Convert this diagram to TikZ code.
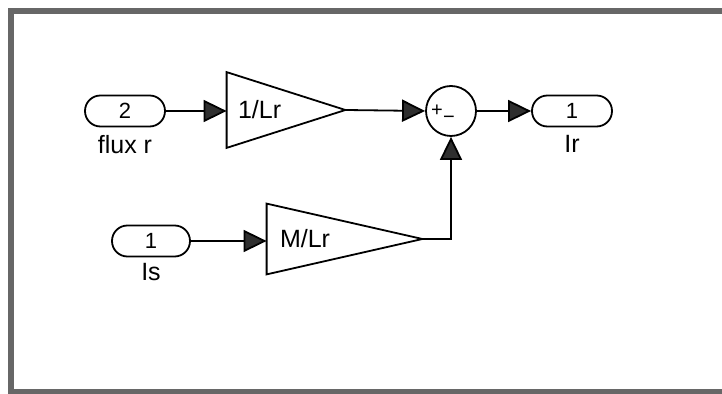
\documentclass[tikz,border=0pt]{standalone}
\usepackage{fontspec}
\setmainfont{Liberation Sans}
\usepackage{tikz}
\usetikzlibrary{arrows.meta,positioning}
\definecolor{framegray}{HTML}{676767}
\definecolor{headfill}{HTML}{2E2E2E}

\begin{document}
\begin{tikzpicture}[x=0.5pt, y=-0.5pt,
  port/.style={draw, line width=0.9pt, rounded corners=7.7pt, minimum width=40pt, minimum height=15.5pt, inner sep=0pt, font=\fontsize{11}{12}\selectfont},
  gainbox/.style={minimum width=59pt, minimum height=37.5pt, inner sep=0pt},
  sumnode/.style={draw, circle, line width=0.9pt, minimum size=25pt, inner sep=0pt},
  lbl/.style={inner sep=1pt, font=\fontsize{12.5}{14}\selectfont},
  sig/.style={-{Triangle[length=11.5pt, width=11pt, fill=headfill]}, line width=0.9pt}
]
  \useasboundingbox (0,0) rectangle (722,394);
  \fill[white] (0,0) rectangle (722,394);
  \begin{scope}
    \clip (0,0) rectangle (722,394);
    \draw[framegray, line width=3pt] (11,11) rectangle (760,392);
  \end{scope}

  % ports
  \node[port] (in2) at (125,111) {2};
  \node[lbl, below=3pt of in2] (in2lbl) {flux r};
  \node[port, minimum width=39pt] (in1) at (151,241) {1};
  \node[lbl, below=2pt of in1] (in1lbl) {Is};
  \node[port] (out1) at (572,111) {1};
  \node[lbl, below=3pt of out1] (out1lbl) {Ir};

  % gains
  \node[gainbox] (g1) at (286,110) {};
  \draw[line width=0.9pt] (g1.north west) -- (g1.east) -- (g1.south west) -- cycle;
  \node[lbl, anchor=west] (g1txt) at ([xshift=4.5pt]g1.west) {1/Lr};
  \node[gainbox, minimum width=77.5pt, minimum height=35pt] (g2) at (344.5,239) {};
  \draw[line width=0.9pt] (g2.north west) -- (g2.east) -- (g2.south west) -- cycle;
  \node[lbl, anchor=west] (g2txt) at ([xshift=5.5pt]g2.west) {M/Lr};

  % sum
  \node[sumnode] (sum) at (451,111) {};
  \node[font=\fontsize{10}{11}\selectfont, inner sep=0pt] (plus) at ([xshift=-7pt]sum.center) {+};
  \node[font=\fontsize{10}{11}\selectfont, inner sep=0pt] (minus) at ([xshift=-1pt, yshift=-4.5pt]sum.center) {\textminus};

  \draw[sig] (in2) -- (g1.west |- in2.east);
  \draw[sig] (g1.east) -- (sum.west);
  \draw[sig] (sum.east) -- (out1.west);
  \draw[sig] (in1) -- (g2.west |- in1.east);
  \draw[sig] (g2.east) -| (sum.south);
\end{tikzpicture}
\end{document}
